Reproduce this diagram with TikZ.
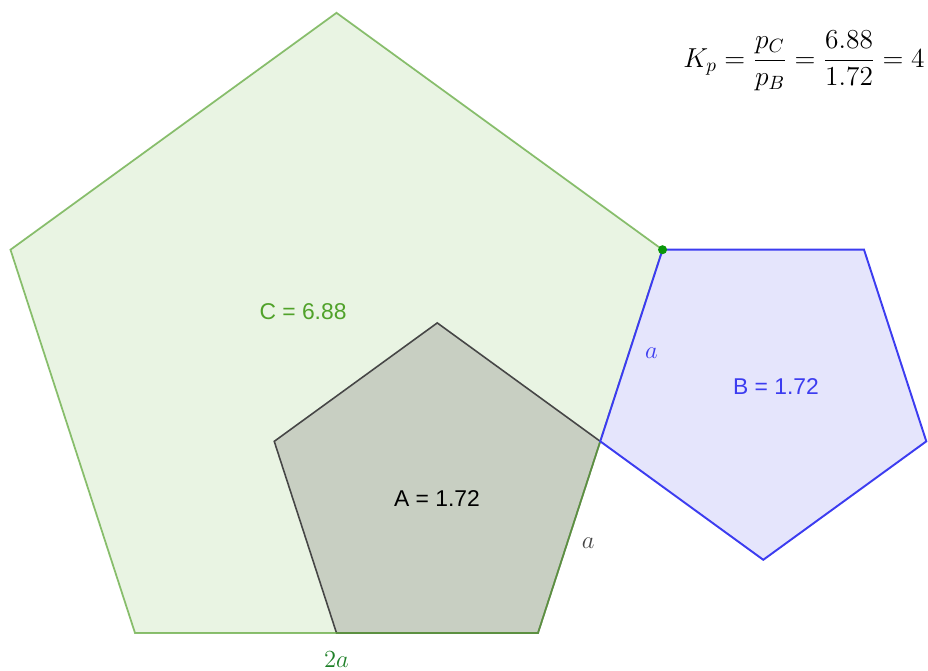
\RequirePackage{fix-cm}
\documentclass[tikz,border=0pt]{standalone}
\usepackage{amsmath}
\usepackage[no-math]{fontspec}
\newfontfamily\labelfont{Liberation Sans}
\definecolor{cgreen}{RGB}{100,170,64}
\definecolor{cfill}{RGB}{233,244,227}
\definecolor{ctext}{RGB}{80,162,42}
\definecolor{dgreen}{RGB}{30,128,40}
\definecolor{afill}{RGB}{200,207,194}
\definecolor{aline}{RGB}{70,70,70}
\definecolor{bblue}{RGB}{60,60,240}
\definecolor{bfill}{RGB}{229,229,252}
\definecolor{dotgreen}{RGB}{10,150,10}

\begin{document}
\begin{tikzpicture}[x=0.2mm, y=0.2mm, every node/.style={font=\labelfont\fontsize{13}{15}\selectfont}]
\useasboundingbox (0,0) rectangle (928,671);
% big pentagon C, side 2a
\coordinate (c1) at (135,38);
\path (c1) ++(0:403) coordinate (c2) ++(72:403) coordinate (c3)
  ++(144:403) coordinate (c4) ++(216:403) coordinate (c5);
% pentagon A, side a
\path (c2) ++(180:201.5) coordinate (a1);
\path (c2) ++(72:201.5) coordinate (a3) ++(144:201.5) coordinate (a4)
  ++(216:201.5) coordinate (a5);
% pentagon B, side a
\path (a3) ++(-36:201.5) coordinate (b2) ++(36:201.5) coordinate (b3)
  ++(108:201.5) coordinate (b4);
% fills
\fill[cfill] (c1) -- (c2) -- (c3) -- (c4) -- (c5) -- cycle;
\filldraw[fill=afill, draw=aline, line width=0.9pt] (a1) -- (c2) -- (a3) -- (a4) -- (a5) -- cycle;
\draw[cgreen, line width=1pt, opacity=0.75] (c1) -- (c2) -- (c3) -- (c4) -- (c5) -- cycle;
\filldraw[fill=bfill, draw=bblue, line width=1.1pt] (a3) -- (b2) -- (b3) -- (b4) -- (c3) -- cycle;
% the common point
\fill[dotgreen] (c3) circle (4.5);
% values
\node[text=ctext] (cval) at (303,359) {C = 6.88};
\node[text=black] (aval) at (437,172) {A = 1.72};
\node[text=bblue] (bval) at (776,284) {B = 1.72};
% side lengths
\path (a3) -- (c3) node[midway, xshift=4mm, yshift=-1.5mm, text=bblue, font=\fontsize{14}{16}\selectfont] (blen) {$a$};
\path (c2) -- (a3) node[midway, xshift=3.8mm, yshift=-1.2mm, text=aline, font=\fontsize{14}{16}\selectfont] (alen) {$a$};
\path (c1) -- (c2) node[midway, yshift=-5.4mm, text=dgreen, font=\fontsize{14}{16}\selectfont] (clen) {$2a$};
% ratio
\node[font=\fontsize{15.6}{18}\selectfont] (ratio) at (804,610)
  {$K_p = \dfrac{p_C}{p_B} = \dfrac{6.88}{1.72} = 4$};
\end{tikzpicture}
\end{document}
